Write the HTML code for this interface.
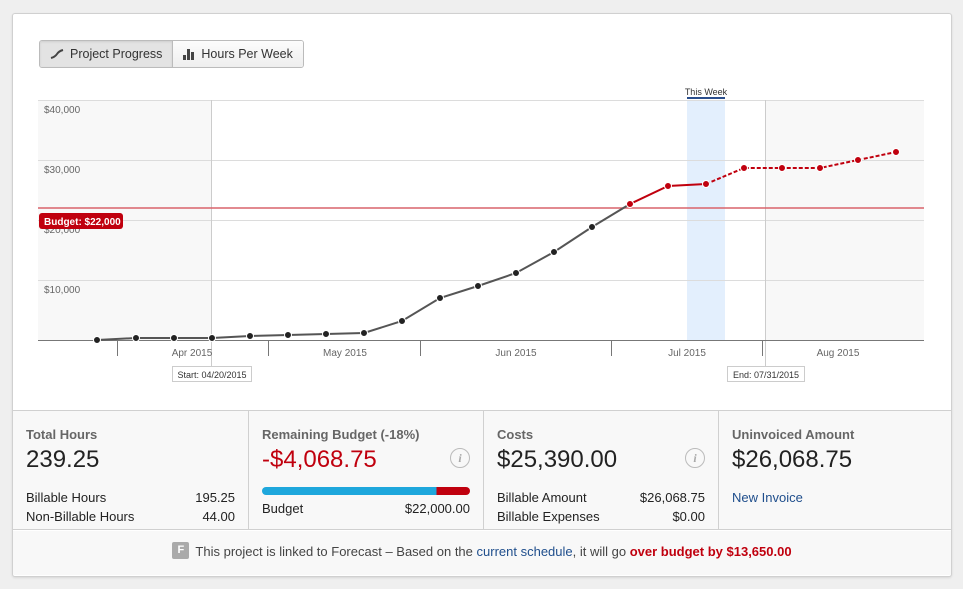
<!DOCTYPE html>
<html><head><style>
body{margin:0;background:#efefef;font-family:"Liberation Sans",sans-serif;width:963px;height:589px;overflow:hidden}
.card{position:absolute;left:12px;top:13px;width:938px;height:562px;background:#fff;border:1px solid #d0d0d0;border-radius:3px;box-shadow:0 1px 2px rgba(0,0,0,.1)}
.btns{position:absolute;left:39px;top:40px;height:26px;display:flex;border:1px solid #bbb;border-radius:3px;overflow:hidden;font-size:12.5px;color:#333}
.btns div{display:flex;align-items:center;padding:0 10px;background:linear-gradient(#fcfcfc,#eee)}
.btns div.on{background:#e3e3e3;border-right:1px solid #bbb;box-shadow:inset 0 1px 2px rgba(0,0,0,.1)}
.stats{position:absolute;left:13px;top:410px;width:938px;height:118px;border-top:1px solid #d0d0d0;border-bottom:1px solid #d0d0d0;background:#f8f8f8}
.col{position:absolute;top:0;height:118px;border-right:1px solid #d0d0d0;box-sizing:border-box;padding:16px 13px 0 13px}
.h{font-size:13px;font-weight:bold;color:#666}
.big{font-size:24px;color:#222;margin-top:4px;height:30px}
.row{display:flex;justify-content:space-between;font-size:13px;color:#222;line-height:19px}
.info{position:absolute;right:13px;top:37px;width:18px;height:18px;border:1px solid #bbb;border-radius:50%;color:#aaa;font:italic bold 12px "Liberation Serif",serif;text-align:center;line-height:18px}
.foot{position:absolute;left:13px;top:531px;width:938px;height:44px;background:#f8f8f8;font-size:13px;color:#444;text-align:center;line-height:42px}
</style></head><body>
<div class="card"></div>
<div class="btns"><div class="on"><svg width="14" height="10" style="margin-right:6px"><path d="M1 9 Q5 8 7 5 T13 1" stroke="#444" stroke-width="2" fill="none"/></svg>Project Progress</div><div><svg width="12" height="12" style="margin-right:6px"><rect x="0" y="7" width="3" height="5" fill="#444"/><rect x="4" y="1" width="3" height="11" fill="#444"/><rect x="8" y="4" width="3" height="8" fill="#444"/></svg>Hours Per Week</div></div>
<svg style="position:absolute;left:0;top:0" width="963" height="410" font-family="Liberation Sans, sans-serif">
<rect x="38" y="100" width="173" height="240" fill="#f8f8f8"/>
<rect x="765" y="100" width="159" height="240" fill="#f8f8f8"/>
<rect x="687" y="100" width="38" height="240" fill="#e3effd"/>
<g stroke="#dcdcdc"><line x1="38" x2="924" y1="100.5" y2="100.5"/><line x1="38" x2="924" y1="160.5" y2="160.5"/><line x1="38" x2="924" y1="220.5" y2="220.5"/><line x1="38" x2="924" y1="280.5" y2="280.5"/>
<line x1="211.5" x2="211.5" y1="100" y2="368" stroke="#ccc"/><line x1="765.5" x2="765.5" y1="100" y2="368" stroke="#ccc"/></g>
<line x1="38" x2="924" y1="340.5" y2="340.5" stroke="#777"/>
<g stroke="#777"><line x1="117.5" x2="117.5" y1="340" y2="356"/><line x1="268.5" x2="268.5" y1="340" y2="356"/><line x1="420.5" x2="420.5" y1="340" y2="356"/><line x1="611.5" x2="611.5" y1="340" y2="356"/><line x1="762.5" x2="762.5" y1="340" y2="356"/></g>
<g font-size="10" fill="#666"><text x="44" y="113">$40,000</text><text x="44" y="173">$30,000</text><text x="44" y="233">$20,000</text><text x="44" y="293">$10,000</text></g>
<g font-size="10" fill="#666" text-anchor="middle"><text x="192" y="356">Apr 2015</text><text x="345" y="356">May 2015</text><text x="516" y="356">Jun 2015</text><text x="687" y="356">Jul 2015</text><text x="838" y="356">Aug 2015</text></g>
<text x="706" y="95" font-size="9" fill="#333" text-anchor="middle">This Week</text>
<rect x="687" y="97" width="38" height="2" fill="#2a4e8c"/>
<line x1="38" x2="924" y1="208" y2="208" stroke="#d9636b" stroke-width="1.5"/>
<rect x="39" y="213" width="84" height="16" rx="3" fill="#c0000e"/>
<text x="44" y="225" font-size="10" fill="#fff" font-weight="bold">Budget: $22,000</text>
<rect x="172.5" y="366.5" width="79" height="15" fill="#fff" stroke="#ccc"/>
<text x="212" y="378" font-size="9" fill="#333" text-anchor="middle">Start: 04/20/2015</text>
<rect x="727.5" y="366.5" width="77" height="15" fill="#fff" stroke="#ccc"/>
<text x="766" y="378" font-size="9" fill="#333" text-anchor="middle">End: 07/31/2015</text>
<polyline fill="none" stroke="#555" stroke-width="2" points="97,340 136,338 174,338 212,338 250,336 288,335 326,334 364,333 402,321 440,298 478,286 516,273 554,252 592,227 630,204"/>
<polyline fill="none" stroke="#c0000e" stroke-width="2" points="630,204 668,186 706,184"/>
<polyline fill="none" stroke="#c0000e" stroke-width="2" stroke-dasharray="4,2" points="706,184 744,168 782,168 820,168 858,160 896,152"/>
<g fill="#222" stroke="#fff" stroke-width="1"><circle cx="97" cy="340" r="3.5"/><circle cx="136" cy="338" r="3.5"/><circle cx="174" cy="338" r="3.5"/><circle cx="212" cy="338" r="3.5"/><circle cx="250" cy="336" r="3.5"/><circle cx="288" cy="335" r="3.5"/><circle cx="326" cy="334" r="3.5"/><circle cx="364" cy="333" r="3.5"/><circle cx="402" cy="321" r="3.5"/><circle cx="440" cy="298" r="3.5"/><circle cx="478" cy="286" r="3.5"/><circle cx="516" cy="273" r="3.5"/><circle cx="554" cy="252" r="3.5"/><circle cx="592" cy="227" r="3.5"/></g>
<g fill="#c0000e" stroke="#fff" stroke-width="1"><circle cx="630" cy="204" r="3.5"/><circle cx="668" cy="186" r="3.5"/><circle cx="706" cy="184" r="3.5"/><circle cx="744" cy="168" r="3.5"/><circle cx="782" cy="168" r="3.5"/><circle cx="820" cy="168" r="3.5"/><circle cx="858" cy="160" r="3.5"/><circle cx="896" cy="152" r="3.5"/></g>
</svg>
<div class="stats">
<div class="col" style="left:0;width:236px"><div class="h">Total Hours</div><div class="big">239.25</div><div style="height:12px"></div><div class="row"><span>Billable Hours</span><span>195.25</span></div><div class="row"><span>Non-Billable Hours</span><span>44.00</span></div></div>
<div class="col" style="left:236px;width:235px"><div class="h">Remaining Budget (-18%)</div><div class="big" style="color:#c0000e">-$4,068.75</div><div class="info">i</div><div style="margin-top:11px;height:8px;border-radius:4px;background:linear-gradient(90deg,#1ea7dc 84%,#c0000e 84%)"></div><div style="height:4px"></div><div class="row"><span>Budget</span><span>$22,000.00</span></div></div>
<div class="col" style="left:471px;width:235px"><div class="h">Costs</div><div class="big">$25,390.00</div><div class="info">i</div><div style="height:12px"></div><div class="row"><span>Billable Amount</span><span>$26,068.75</span></div><div class="row"><span>Billable Expenses</span><span>$0.00</span></div></div>
<div class="col" style="left:706px;width:232px;border-right:none"><div class="h">Uninvoiced Amount</div><div class="big">$26,068.75</div><div style="height:12px"></div><div class="row" style="color:#1f4e8c"><span>New Invoice</span></div></div>
</div>
<div class="foot"><span style="display:inline-block;width:17px;height:17px;background:#aaa;color:#fff;font-weight:bold;font-size:11px;line-height:17px;border-radius:2px;vertical-align:middle;margin-right:6px;position:relative;top:-2px">F</span>This project is linked to Forecast – Based on the <span style="color:#1f4e8c">current schedule</span>, it will go <b style="color:#c0000e">over budget by $13,650.00</b></div>
</body></html>
